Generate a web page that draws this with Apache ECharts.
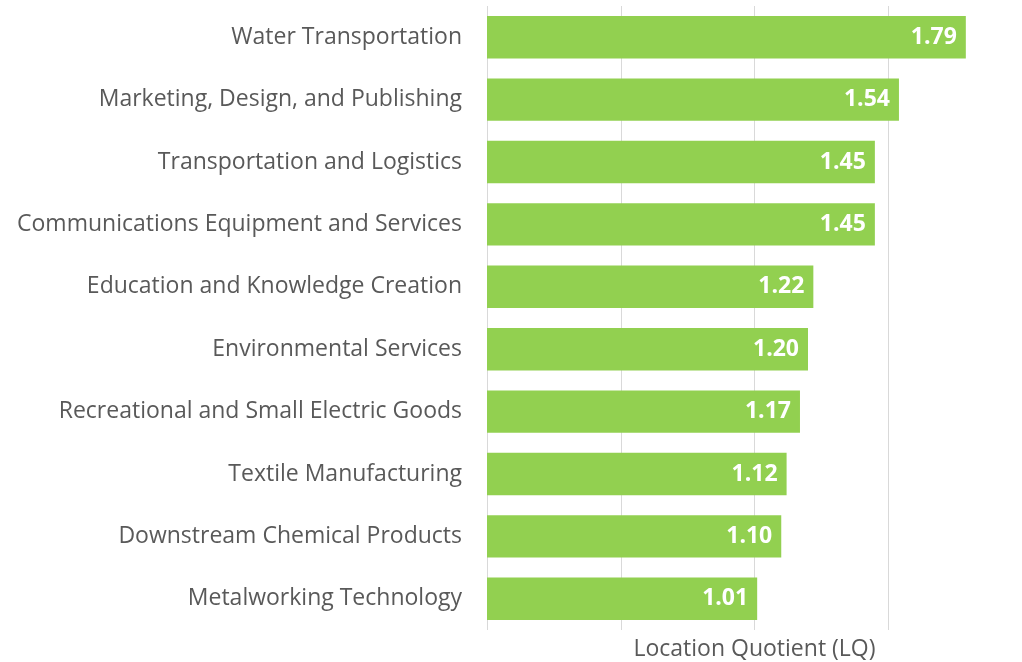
<!DOCTYPE html>
<html>
<head>
<meta charset="utf-8">
<script src="https://cdn.jsdelivr.net/npm/echarts@6/dist/echarts.min.js"></script>
<style>
  html, body { margin: 0; padding: 0; background: #fff; }
  #chart { width: 1022px; height: 662px; }
</style>
</head>
<body>
<div id="chart"></div>
<script>
const clusters = [
  'Water Transportation',
  'Marketing, Design, and Publishing',
  'Transportation and Logistics',
  'Communications Equipment and Services',
  'Education and Knowledge Creation',
  'Environmental Services',
  'Recreational and Small Electric Goods',
  'Textile Manufacturing',
  'Downstream Chemical Products',
  'Metalworking Technology',
]
const lqValues = [1.79, 1.54, 1.45, 1.45, 1.22, 1.20, 1.17, 1.12, 1.10, 1.01]

const font = '"Open Sans", Lato, sans-serif'
const gray = '#595959'

const chart = echarts.init(document.getElementById('chart'))
chart.setOption({
  animation: false,
  grid: { left: 487, right: 0, top: 6, bottom: 32, containLabel: false, outerBoundsMode: 'none' },
  xAxis: {
    type: 'value',
    min: 0,
    max: 2,
    interval: 0.5,
    name: 'Location Quotient (LQ)',
    nameLocation: 'middle',
    nameGap: 8,
    nameTextStyle: { color: gray, fontSize: 23, fontFamily: font },
    axisLabel: { show: false },
    axisLine: { show: false },
    axisTick: { show: false },
    splitLine: { lineStyle: { color: '#d9d9d9', width: 1 } },
  },
  yAxis: {
    type: 'category',
    inverse: true,
    data: clusters,
    axisLine: { show: false },
    axisTick: { show: false },
    axisLabel: { color: gray, fontSize: 23, fontFamily: font, margin: 25, padding: [6, 0, 0, 0] },
  },
  series: [
    {
      type: 'bar',
      data: lqValues,
      barCategoryGap: '32%',
      itemStyle: { color: '#92d050' },
      label: {
        show: true,
        position: 'insideRight',
        distance: 9,
        color: '#fff',
        fontWeight: 'bold',
        fontSize: 23,
        fontFamily: font,
        padding: [6, 0, 0, 0],
        formatter: (p) => p.value.toFixed(2),
      },
    },
  ],
})
</script>
</body>
</html>
